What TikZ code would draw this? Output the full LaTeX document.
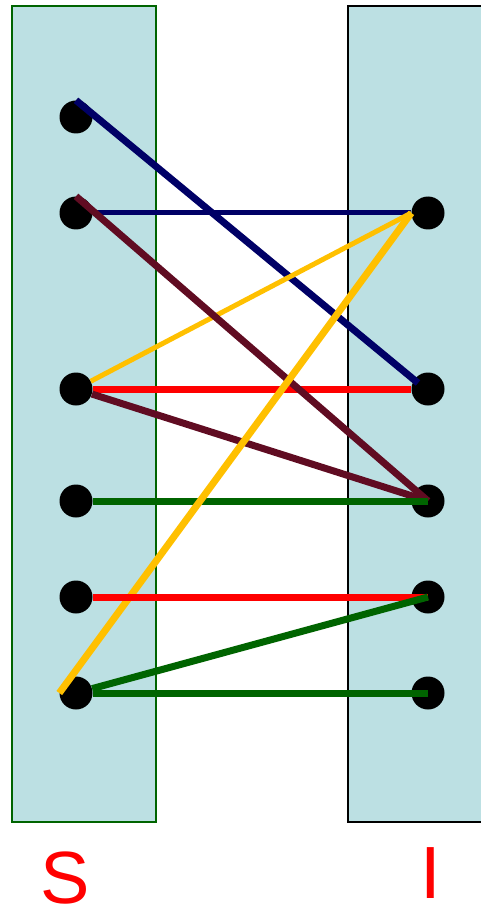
\documentclass[tikz,border=0pt]{standalone}
\usepackage{fontspec}
\setmainfont{Liberation Sans}
\usepackage{tikz}
\usetikzlibrary{positioning,calc}
\definecolor{setfill}{RGB}{188,224,227}
\definecolor{setgreen}{RGB}{0,100,0}
\definecolor{linknavy}{RGB}{0,0,102}
\definecolor{linkmaroon}{RGB}{96,12,34}
\definecolor{linkgold}{RGB}{255,192,0}
\definecolor{linkred}{RGB}{255,0,0}

\tikzset{
  dot/.style={circle, fill=black, inner sep=0pt, minimum size=33pt},
  bigletter/.style={text=red, font=\fontsize{74}{74}\selectfont, inner sep=0pt},
  thickline/.style={line width=7pt},
  thinline/.style={line width=5pt}
}

\begin{document}
\begin{tikzpicture}[x=1pt, y=-1pt]
  \useasboundingbox (0,0) rectangle (481,909);
  % Set boxes
  \filldraw[fill=setfill, draw=setgreen, line width=1.5pt] (12,6) rectangle (156,822);
  \filldraw[fill=setfill, draw=black, line width=1.5pt] (348,6) rectangle (484,822);
  % Dots, left side
  \node[dot] (s1) at (76,117) {};
  \node[dot] (s2) at (76,213) {};
  \node[dot] (s3) at (76,389) {};
  \node[dot] (s4) at (76,501) {};
  \node[dot] (s5) at (76,597) {};
  \node[dot] (s6) at (76,693) {};
  % Dots, right side
  \node[dot] (i1) at (428,213) {};
  \node[dot] (i2) at (428,389) {};
  \node[dot] (i3) at (428,501) {};
  \node[dot] (i4) at (428,597) {};
  \node[dot] (i5) at (428,693) {};
  % Links
  \draw[linknavy, thickline] (s1.north) -- ($(i2.center)+(-10,-6)$);
  \draw[linknavy, thinline] (s2) -- (i1);
  \draw[linkgold, thinline] (s3) -- (i1.west);
  \draw[linkred, thickline] (s3) -- (i2);
  \draw[linkmaroon, thickline] (s3) -- (i3.center);
  \draw[linkmaroon, thickline] (s2.north) -- (i3.center);
  \draw[setgreen, thickline] (s4) -- (i3.center);
  \draw[linkgold, thickline] (s6.west) -- (i1.west);
  \draw[linkred, thickline] (s5) -- (i4.center);
  \draw[setgreen, thickline] (s6) -- (i4.center);
  \draw[setgreen, thickline] (s6) -- (i5.center);
  % Labels
  \node[bigletter] (lblS) at (65,878) {S};
  \node[bigletter] (lblI) at (431,873) {I};
\end{tikzpicture}
\end{document}
